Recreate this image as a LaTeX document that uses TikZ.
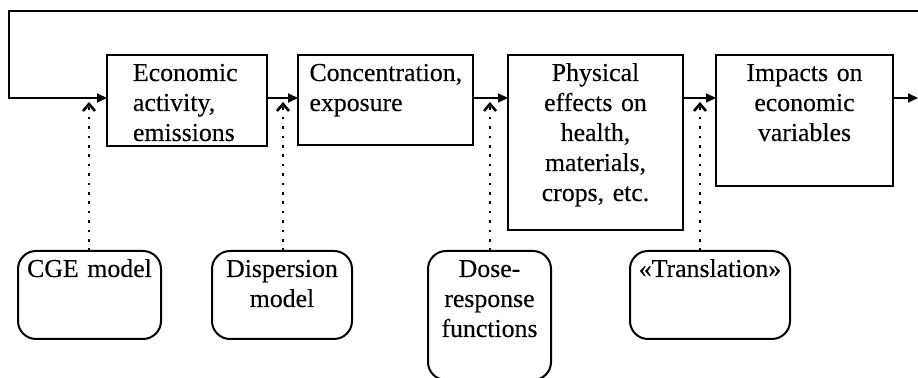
\documentclass[tikz,border=0pt]{standalone}
\usepackage{fontspec}
\setmainfont{Liberation Serif}[UprightFeatures={FakeBold=0.3}]
\usetikzlibrary{arrows.meta}

\begin{document}
\begin{tikzpicture}[x=1pt,y=-1pt,>={Triangle[length=5pt,width=4.5pt]},
                    line width=1pt,font=\fontsize{12.9}{15}\selectfont]
  \tikzstyle{stage}=[draw,rectangle,anchor=north west,outer sep=0pt,
                     inner xsep=3.75pt,inner ysep=4pt,text height=9pt,align=center]
  \tikzstyle{tool}=[stage,rounded corners=9pt]
  \tikzstyle{feed}=[-{Straight Barb[length=3.5pt,width=6pt]},line width=1.3pt,
                    dash pattern=on 1.3pt off 3.4pt]

  \useasboundingbox (0,0) rectangle (459,189);

  % main chain
  \node[stage,align=left,text width=54pt,inner xsep=13pt,text depth=28.5pt]
        (econ) at (53.5,27.5) {Economic\\activity,\\emissions};
  \node[stage,align=left,text width=76pt,inner xsep=5.75pt,text depth=28pt]
        (conc) at (149,27.5) {Concentration,\\exposure};
  \node[stage,text width=80pt,text depth=70.5pt]
        (phys) at (254,27.5) {Physical\\effects on\\health,\\materials,\\crops, etc.};
  \node[stage,text width=81pt,text depth=48.5pt]
        (impact) at (358,27.5) {Impacts on\\economic\\variables};

  % models
  \node[tool,text width=64pt,text depth=27pt]   (cge)   at (9,125.5)   {CGE model};
  \node[tool,text width=62.5pt,text depth=27pt] (disp)  at (106,125.5) {Dispersion\\model};
  \node[tool,text width=54pt,text depth=47.5pt] (dose)  at (214,125.5) {Dose-\\response\\functions};
  \node[tool,text width=72.5pt,text depth=27pt] (trans) at (315,125.5) {«Translation»};

  \coordinate (flow) at (0,49);
  \coordinate (ret)  at (459,5.5);
  \coordinate (bend) at (4.5,5.5);
  \coordinate (out)  at (459,49);
  \coordinate (d1) at (44.5,51);
  \coordinate (d2) at (141.5,51);
  \coordinate (d3) at (245,51);
  \coordinate (d4) at (350,51);

  \draw[->] (ret) -- (bend) |- (econ.west|-flow);
  \draw[->] (econ.east|-flow) -- (conc.west|-flow);
  \draw[->] (conc.east|-flow) -- (phys.west|-flow);
  \draw[->] (phys.east|-flow) -- (impact.west|-flow);
  \draw[->] (impact.east|-flow) -- (out);

  \draw[feed] (d1|-cge.north) -- (d1);
  \draw[feed] (d2|-disp.north) -- (d2);
  \draw[feed] (d3|-dose.north) -- (d3);
  \draw[feed] (d4|-trans.north) -- (d4);
\end{tikzpicture}
\end{document}
